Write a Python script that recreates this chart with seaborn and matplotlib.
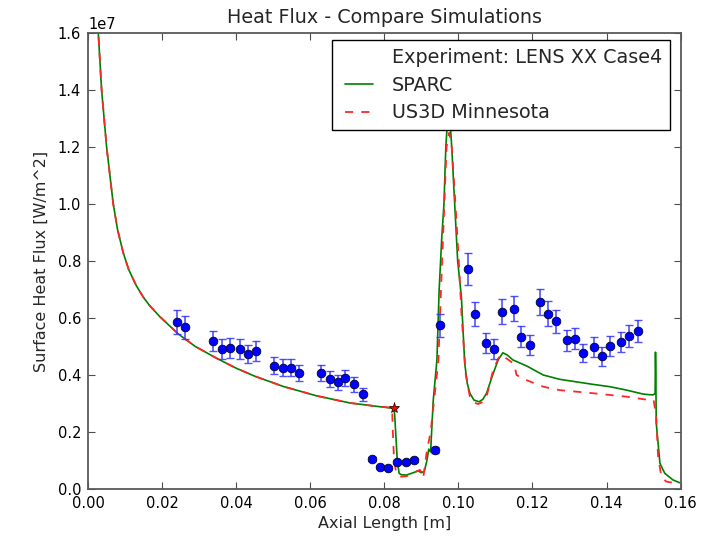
import numpy as np
import pandas as pd
import matplotlib
matplotlib.use("Agg")
import matplotlib.pyplot as plt
from matplotlib.lines import Line2D
from matplotlib.legend_handler import HandlerLine2D
import seaborn as sns

# ---------------- data (heat flux in units of 1e7 W/m^2) ----------------
exp_x = [0.0240, 0.0262, 0.0337, 0.0361, 0.0383, 0.0410, 0.0432, 0.0453,
         0.0502, 0.0526, 0.0548, 0.0569, 0.0629, 0.0653, 0.0675, 0.0693,
         0.0718, 0.0742, 0.0766, 0.0788, 0.0811, 0.0835, 0.0858, 0.0879,
         0.0938, 0.0951, 0.1026, 0.1046, 0.1075, 0.1097, 0.1118, 0.1149,
         0.1169, 0.1193, 0.1221, 0.1242, 0.1264, 0.1293, 0.1316, 0.1337,
         0.1365, 0.1387, 0.1409, 0.1440, 0.1461, 0.1485]
exp_y = [0.586, 0.568, 0.519, 0.491, 0.495, 0.491, 0.474, 0.484,
         0.432, 0.425, 0.425, 0.407, 0.407, 0.386, 0.375, 0.389,
         0.368, 0.333, 0.104, 0.077, 0.074, 0.094, 0.096, 0.102,
         0.136, 0.575, 0.772, 0.614, 0.513, 0.491, 0.622, 0.632,
         0.534, 0.504, 0.655, 0.615, 0.588, 0.522, 0.527, 0.477,
         0.497, 0.466, 0.501, 0.516, 0.537, 0.555]
exp_err = [0.041, 0.040, 0.036, 0.034, 0.035, 0.034, 0.033, 0.034,
           0.030, 0.030, 0.030, 0.028, 0.028, 0.027, 0.026, 0.027,
           0.026, 0.023, 0.007, 0.005, 0.005, 0.007, 0.007, 0.007,
           0.010, 0.040, 0.056, 0.043, 0.036, 0.034, 0.044, 0.044,
           0.037, 0.035, 0.046, 0.043, 0.041, 0.037, 0.037, 0.033,
           0.035, 0.033, 0.035, 0.036, 0.038, 0.039]

sparc_x = [0.0026, 0.00278, 0.00369, 0.00504, 0.00683, 0.0080, 0.0095, 0.0110,
           0.0130, 0.0150, 0.0167, 0.0194, 0.0243, 0.0290, 0.0347, 0.0400,
           0.0450, 0.0527, 0.0617, 0.0707, 0.0780, 0.0826, 0.0828, 0.0835,
           0.0840, 0.0846, 0.0860, 0.0880, 0.0891, 0.0900, 0.0908, 0.0915,
           0.0920, 0.0925, 0.0932, 0.0942, 0.0948, 0.0955, 0.0961, 0.0966,
           0.0972, 0.0978, 0.0982, 0.0990, 0.0998, 0.1008, 0.1017, 0.1024,
           0.1031, 0.1042, 0.1056, 0.1066, 0.1076, 0.1094, 0.1108, 0.1120,
           0.1132, 0.1147, 0.1184, 0.1229, 0.1273, 0.1364, 0.1409, 0.1454,
           0.1499, 0.1525, 0.1531, 0.1532, 0.1533, 0.1534, 0.1544, 0.1557,
           0.1579, 0.1597]
sparc_y = [1.644, 1.604, 1.400, 1.200, 1.000, 0.910, 0.830, 0.770,
           0.715, 0.672, 0.643, 0.605, 0.545, 0.500, 0.459, 0.424,
           0.396, 0.360, 0.327, 0.302, 0.290, 0.283, 0.260, 0.100,
           0.055, 0.050, 0.049, 0.058, 0.064, 0.057, 0.062, 0.100,
           0.140, 0.130, 0.310, 0.453, 0.698, 0.880, 1.000, 1.200,
           1.320, 1.280, 1.200, 1.000, 0.800, 0.675, 0.441, 0.370,
           0.336, 0.312, 0.306, 0.315, 0.336, 0.406, 0.455, 0.478,
           0.470, 0.453, 0.432, 0.400, 0.385, 0.367, 0.359, 0.347,
           0.333, 0.330, 0.335, 0.480, 0.400, 0.232, 0.090, 0.055,
           0.032, 0.022]

us3d_x = [0.0026, 0.00278, 0.00369, 0.00504, 0.00683, 0.0080, 0.0095, 0.0110,
          0.0130, 0.0150, 0.0167, 0.0194, 0.0243, 0.0290, 0.0347, 0.0400,
          0.0450, 0.0527, 0.0617, 0.0707, 0.0780, 0.0821, 0.0823, 0.0826,
          0.0832, 0.0845, 0.0860, 0.0896, 0.0900, 0.0905, 0.0914, 0.0925,
          0.0946, 0.0953, 0.0962, 0.0968, 0.0975, 0.0982, 0.0992, 0.1001,
          0.1009, 0.1020, 0.1031, 0.1042, 0.1053, 0.1065, 0.1076, 0.1094,
          0.1112, 0.1130, 0.1148, 0.1152, 0.1157, 0.1184, 0.1229, 0.1273,
          0.1364, 0.1454, 0.1516, 0.1527, 0.1534, 0.1539, 0.1548, 0.1561,
          0.1597]
us3d_y = [1.644, 1.604, 1.400, 1.200, 1.000, 0.910, 0.830, 0.770,
          0.715, 0.672, 0.643, 0.605, 0.545, 0.500, 0.459, 0.424,
          0.396, 0.360, 0.327, 0.302, 0.290, 0.285, 0.200, 0.110,
          0.055, 0.043, 0.045, 0.067, 0.060, 0.038, 0.126, 0.200,
          0.450, 0.700, 1.000, 1.200, 1.250, 1.200, 1.000, 0.800,
          0.600, 0.400, 0.324, 0.304, 0.298, 0.305, 0.324, 0.418,
          0.470, 0.458, 0.441, 0.430, 0.400, 0.382, 0.359, 0.347,
          0.336, 0.324, 0.312, 0.312, 0.254, 0.113, 0.043, 0.026,
          0.018]

star_x = [0.0826]
star_y = [0.283]

SCALE = 1e7

exp_df = pd.DataFrame({"x": exp_x, "q": np.array(exp_y) * SCALE,
                       "err": np.array(exp_err) * SCALE})
sparc_df = pd.DataFrame({"x": sparc_x, "q": np.array(sparc_y) * SCALE})
us3d_df = pd.DataFrame({"x": us3d_x, "q": np.array(us3d_y) * SCALE})

GREEN = (0, 0.5, 0)
RED = (1, 0.15, 0.15)
DASH = (0, (4.5, 4.5))

# ---------------- style ----------------
sns.set_style("white")
plt.rcParams.update({
    "font.family": ["DejaVu Sans"],
    "xtick.direction": "in", "ytick.direction": "in",
    "xtick.top": True, "ytick.right": True,
    "xtick.bottom": True, "ytick.left": True,
    "xtick.major.size": 5, "ytick.major.size": 5,
    "xtick.major.width": 0.8, "ytick.major.width": 0.8,
    "xtick.color": "0.3", "ytick.color": "0.3",
    "xtick.labelcolor": "black", "ytick.labelcolor": "black",
    "axes.edgecolor": "0.35", "axes.linewidth": 1.3,
})

fig = plt.figure(figsize=(7.15, 5.37), dpi=100)
ax = fig.add_axes([0.123, 0.0894, 0.829, 0.849])

sns.lineplot(data=sparc_df, x="x", y="q", ax=ax, color=GREEN,
             lw=1.2, sort=False, estimator=None, zorder=2)
sns.lineplot(data=us3d_df, x="x", y="q", ax=ax, color=RED,
             lw=1.3, sort=False, estimator=None, zorder=3, linestyle=DASH)

ax.errorbar(exp_df["x"], exp_df["q"], yerr=exp_df["err"], fmt="none",
            ecolor=(0.2, 0.2, 1.0), elinewidth=1.2, capsize=3,
            capthick=1.0, zorder=4, alpha=0.85)
sns.scatterplot(data=exp_df, x="x", y="q", ax=ax, color=(0, 0, 1),
                s=40, edgecolor="black", linewidth=0.5, zorder=5)
ax.plot(star_x, np.array(star_y) * SCALE, marker="*", ls="none",
        color="red", mec="black", mew=0.5, ms=8, zorder=6)

ax.set_xlim(0, 0.16)
ax.set_ylim(0, 1.6e7)
ax.set_xticks(np.arange(0, 0.161, 0.02))
ax.set_yticks(np.arange(0, 1.61e7, 0.2e7))
ax.tick_params(labelsize=10.5, pad=5)
ax.yaxis.get_offset_text().set_fontsize(10.5)

ax.set_title("Heat Flux - Compare Simulations", fontsize=13.8, pad=7)
ax.set_xlabel("Axial Length [m]", fontsize=11.5, labelpad=4)
ax.set_ylabel("Surface Heat Flux [W/m^2]", fontsize=11.5, labelpad=6)

handles = [Line2D([], [], ls="none", marker=None),
           Line2D([], [], color=GREEN, lw=1.2),
           Line2D([], [], color=RED, lw=1.3, ls=DASH)]
labels = ["Experiment: LENS XX Case4", "SPARC", "US3D Minnesota"]
leg = ax.legend(handles, labels, loc="upper right",
                bbox_to_anchor=(0.9815, 0.9846), borderaxespad=0,
                fontsize=13.8, frameon=True, fancybox=False,
                edgecolor="black", framealpha=1, handlelength=1.71,
                handletextpad=1.0, borderpad=0.4, labelspacing=0.46,
                handler_map={Line2D: HandlerLine2D(xpad=0.26)})
leg.get_frame().set_linewidth(1.0)
leg.set_zorder(10)

fig.savefig("out.png", dpi=100)
